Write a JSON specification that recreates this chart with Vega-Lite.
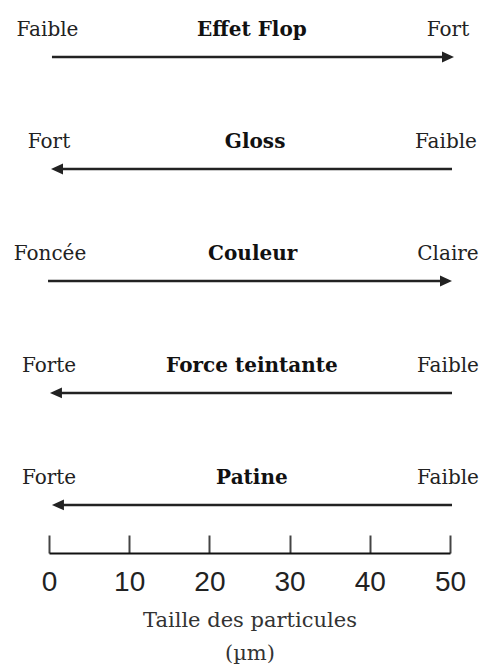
{
  "$schema": "https://vega.github.io/schema/vega-lite/v6.json",
  "autosize": "none",
  "width": 401,
  "height": 553,
  "padding": {"left": 49, "top": 0, "right": 32, "bottom": 116},
  "background": "white",
  "config": {"view": {"stroke": null}},
  "datasets": {
    "arrows": [
      {"row": 1, "from": 0.37, "to": 49.5, "tip": 50.5, "dir": "right"},
      {"row": 2, "from": 50.25, "to": 1.2, "tip": 0.25, "dir": "left"},
      {"row": 3, "from": -0.12, "to": 49.2, "tip": 50.25, "dir": "right"},
      {"row": 4, "from": 50.25, "to": 1.1, "tip": 0.12, "dir": "left"},
      {"row": 5, "from": 50.25, "to": 1.3, "tip": 0.37, "dir": "left"}
    ],
    "labels": [
      {"row": 1, "x": -0.19, "text": "Faible", "kind": "end"},
      {"row": 1, "x": 25.3, "text": "Effet Flop", "kind": "name"},
      {"row": 1, "x": 49.75, "text": "Fort", "kind": "end"},
      {"row": 2, "x": 0, "text": "Fort", "kind": "end"},
      {"row": 2, "x": 25.7, "text": "Gloss", "kind": "name"},
      {"row": 2, "x": 49.5, "text": "Faible", "kind": "end"},
      {"row": 3, "x": 0.12, "text": "Foncée", "kind": "end"},
      {"row": 3, "x": 25.4, "text": "Couleur", "kind": "name"},
      {"row": 3, "x": 49.75, "text": "Claire", "kind": "end"},
      {"row": 4, "x": 0, "text": "Forte", "kind": "end"},
      {"row": 4, "x": 25.3, "text": "Force teintante", "kind": "name"},
      {"row": 4, "x": 49.75, "text": "Faible", "kind": "end"},
      {"row": 5, "x": 0, "text": "Forte", "kind": "end"},
      {"row": 5, "x": 25.3, "text": "Patine", "kind": "name"},
      {"row": 5, "x": 49.75, "text": "Faible", "kind": "end"}
    ]
  },
  "layer": [
    {
      "data": {"name": "arrows"},
      "mark": {"type": "rule", "color": "#222222", "strokeWidth": 2.5},
      "encoding": {
        "x": {
          "field": "from", "type": "quantitative",
          "scale": {"domain": [0, 50], "nice": false, "zero": false},
          "axis": {
            "values": [0, 10, 20, 30, 40, 50],
            "grid": false,
            "domainColor": "#111111",
            "domainWidth": 2,
            "tickColor": "#444444",
            "tickWidth": 2,
            "tickSize": -18,
            "labelFont": "Liberation Sans",
            "labelFontSize": 28,
            "labelColor": "#222222",
            "labelPadding": 33,
            "labelFlush": false,
            "title": ["Taille des particules", "(µm)"],
            "titleFont": "DejaVu Serif",
            "titleFontSize": 21,
            "titleFontWeight": "normal",
            "titleColor": "#333333",
            "titleLineHeight": 33,
            "titlePadding": 13
          }
        },
        "x2": {"field": "to"},
        "y": {
          "field": "row", "type": "quantitative",
          "scale": {"domain": [0.491, 5.429], "reverse": true, "nice": false, "zero": false},
          "axis": null
        }
      }
    },
    {
      "data": {"name": "arrows"},
      "mark": {"type": "point", "filled": true, "color": "#222222", "opacity": 1, "strokeWidth": 0},
      "encoding": {
        "x": {"field": "tip", "type": "quantitative"},
        "y": {"field": "row", "type": "quantitative"},
        "shape": {
          "field": "dir", "type": "nominal",
          "scale": {"domain": ["right", "left"], "range": ["M0,0L-2,-0.9L-2,0.9Z", "M0,0L2,-0.9L2,0.9Z"]},
          "legend": null
        },
        "size": {"value": 144}
      }
    },
    {
      "data": {"name": "labels"},
      "transform": [{"filter": "datum.kind === 'end'"}],
      "mark": {"type": "text", "font": "DejaVu Serif", "fontSize": 20, "color": "#222222", "align": "center", "baseline": "alphabetic", "dy": -21},
      "encoding": {
        "x": {"field": "x", "type": "quantitative"},
        "y": {"field": "row", "type": "quantitative"},
        "text": {"field": "text"}
      }
    },
    {
      "data": {"name": "labels"},
      "transform": [{"filter": "datum.kind === 'name'"}],
      "mark": {"type": "text", "font": "DejaVu Serif", "fontSize": 20, "fontWeight": "bold", "color": "#111111", "align": "center", "baseline": "alphabetic", "dy": -21},
      "encoding": {
        "x": {"field": "x", "type": "quantitative"},
        "y": {"field": "row", "type": "quantitative"},
        "text": {"field": "text"}
      }
    }
  ]
}
